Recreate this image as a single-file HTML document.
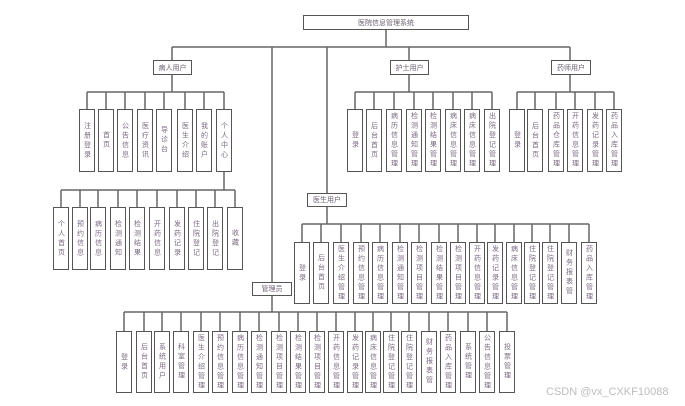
<!DOCTYPE html>
<html><head><meta charset="utf-8"><style>
html,body{margin:0;padding:0;background:#fff;}
#c{position:relative;width:685px;height:406px;overflow:hidden;font-family:"Liberation Sans","Noto Sans CJK SC",sans-serif;}
svg{position:absolute;left:0;top:0;}
.b{position:absolute;width:16px;border:1.5px solid #555;box-sizing:border-box;display:flex;align-items:center;justify-content:center;writing-mode:vertical-rl;text-orientation:upright;font-size:7px;line-height:7px;letter-spacing:2.5px;color:#7a6a80;background:#fff;}
.h{position:absolute;height:15px;border:1.5px solid #555;box-sizing:border-box;display:flex;align-items:center;justify-content:center;font-size:7px;color:#6a6070;background:#fff;}
.p{top:109px;height:63px}.q{top:207px;height:63px}.d{top:242px;height:62px}.a{top:331px;height:62px}
#wm{position:absolute;left:546px;top:386px;font-size:11px;color:#bdbdbd;font-family:"Liberation Sans",sans-serif;}
</style></head><body><div id="c">
<svg width="685" height="406"><g stroke="#666" stroke-width="1.5" fill="none">
<path d="M386 30V47M172 47H570M172 47V60M409 47V60M570 47V60M327 47V193M272 47V282"/>
<path d="M172 74V92M87 92H224M87 92V109M106 92V109M125 92V109M145 92V109M164 92V109M185 92V109M204 92V109M224 92V109"/>
<path d="M224 172V190M61 190H235M61 190V207M80 190V207M98 190V207M118 190V207M137 190V207M157 190V207M177 190V207M196 190V207M215 190V207M235 190V207"/>
<path d="M409 74V92M355 92H492M355 92V109M374 92V109M394 92V109M414 92V109M433 92V109M453 92V109M472 92V109M492 92V109"/>
<path d="M570 74V92M517 92H614M517 92V109M535 92V109M556 92V109M575 92V109M595 92V109M614 92V109"/>
<path d="M327 206V224M302 224H589M302 224V242M321 224V242M341 224V242M361 224V242M380 224V242M400 224V242M419 224V242M439 224V242M458 224V242M477 224V242M495 224V242M514 224V242M532 224V242M550 224V242M569 224V242M589 224V242"/>
<path d="M272 295V312M124 312H507M124 312V331M144 312V331M162 312V331M181 312V331M201 312V331M220 312V331M240 312V331M259 312V331M279 312V331M298 312V331M317 312V331M336 312V331M355 312V331M373 312V331M391 312V331M409 312V331M429 312V331M448 312V331M468 312V331M487 312V331M507 312V331"/>
</g></svg>
<div class="h" style="left:303px;top:15px;width:166px">医院信息管理系统</div>
<div class="h" style="left:153px;top:60px;width:39px">病人用户</div>
<div class="h" style="left:390px;top:60px;width:39px">护士用户</div>
<div class="h" style="left:551px;top:60px;width:40px">药师用户</div>
<div class="h" style="left:307px;top:193px;width:40px;height:14px">医生用户</div>
<div class="h" style="left:252px;top:282px;width:40px;height:14px">管理员</div>

<div class="b p" style="left:79px">注册登录</div>
<div class="b p" style="left:98px">首页</div>
<div class="b p" style="left:117px">公告信息</div>
<div class="b p" style="left:137px">医疗资讯</div>
<div class="b p" style="left:156px">导诊台</div>
<div class="b p" style="left:177px">医生介绍</div>
<div class="b p" style="left:196px">我的账户</div>
<div class="b p" style="left:216px">个人中心</div>

<div class="b q" style="left:53px">个人首页</div>
<div class="b q" style="left:72px">预约信息</div>
<div class="b q" style="left:90px">病历信息</div>
<div class="b q" style="left:110px">检测通知</div>
<div class="b q" style="left:129px">检测结果</div>
<div class="b q" style="left:149px">开药信息</div>
<div class="b q" style="left:169px">发药记录</div>
<div class="b q" style="left:188px">住院登记</div>
<div class="b q" style="left:207px">出院登记</div>
<div class="b q" style="left:227px">收藏</div>

<div class="b p" style="left:347px">登录</div>
<div class="b p" style="left:366px">后台首页</div>
<div class="b p" style="left:386px">病历信息管理</div>
<div class="b p" style="left:406px">检测通知管理</div>
<div class="b p" style="left:425px">检测结果管理</div>
<div class="b p" style="left:445px">病床信息管理</div>
<div class="b p" style="left:464px">病床信息管理</div>
<div class="b p" style="left:484px">出院登记管理</div>

<div class="b p" style="left:509px">登录</div>
<div class="b p" style="left:527px">后台首页</div>
<div class="b p" style="left:548px">药品仓库管理</div>
<div class="b p" style="left:567px">开药信息管理</div>
<div class="b p" style="left:587px">发药记录管理</div>
<div class="b p" style="left:606px">药品入库管理</div>

<div class="b d" style="left:294px">登录</div>
<div class="b d" style="left:313px">后台首页</div>
<div class="b d" style="left:333px">医生介绍管理</div>
<div class="b d" style="left:353px">预约信息管理</div>
<div class="b d" style="left:372px">病历信息管理</div>
<div class="b d" style="left:392px">检测通知管理</div>
<div class="b d" style="left:411px">检测项目管理</div>
<div class="b d" style="left:431px">检测结果管理</div>
<div class="b d" style="left:450px">检测项目管理</div>
<div class="b d" style="left:469px">开药信息管理</div>
<div class="b d" style="left:487px">发药记录管理</div>
<div class="b d" style="left:506px">病床信息管理</div>
<div class="b d" style="left:524px">住院登记管理</div>
<div class="b d" style="left:542px">住院登记管理</div>
<div class="b d" style="left:561px">财务报表管</div>
<div class="b d" style="left:581px">药品入库管理</div>

<div class="b a" style="left:116px">登录</div>
<div class="b a" style="left:136px">后台首页</div>
<div class="b a" style="left:154px">系统用户</div>
<div class="b a" style="left:173px">科室管理</div>
<div class="b a" style="left:193px">医生介绍管理</div>
<div class="b a" style="left:212px">预约信息管理</div>
<div class="b a" style="left:232px">病历信息管理</div>
<div class="b a" style="left:251px">检测通知管理</div>
<div class="b a" style="left:271px">检测项目管理</div>
<div class="b a" style="left:290px">检测结果管理</div>
<div class="b a" style="left:309px">检测项目管理</div>
<div class="b a" style="left:328px">开药信息管理</div>
<div class="b a" style="left:347px">发药记录管理</div>
<div class="b a" style="left:365px">病床信息管理</div>
<div class="b a" style="left:383px">住院登记管理</div>
<div class="b a" style="left:401px">住院登记管理</div>
<div class="b a" style="left:421px">财务报表管</div>
<div class="b a" style="left:440px">药品入库管理</div>
<div class="b a" style="left:460px">系统管理</div>
<div class="b a" style="left:479px">公告信息管理</div>
<div class="b a" style="left:499px">投票管理</div>

<div id="wm">CSDN @vx_CXKF10088</div>
</div></body></html>
